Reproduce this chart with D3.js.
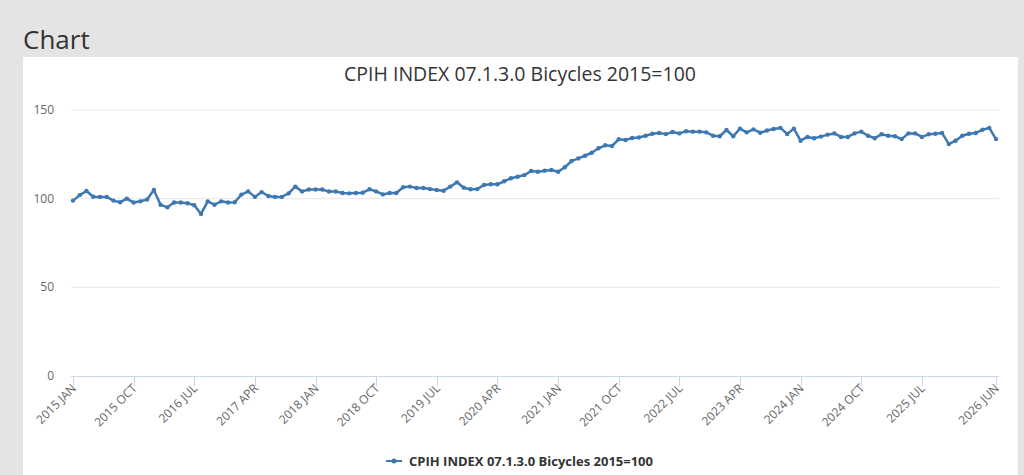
<!DOCTYPE html>
<html>
<head>
<meta charset="utf-8">
<script src="https://cdn.jsdelivr.net/npm/d3@7"></script>
<style>
  body { margin: 0; background: #e4e4e4; font-family: "Open Sans", sans-serif; }
  svg { display: block; }
</style>
</head>
<body>
<svg width="1024" height="475"></svg>
<script>
// monthly index values, 2015 JAN .. 2026 JUN
var startYear = 2015;
var monthNames = ["JAN", "FEB", "MAR", "APR", "MAY", "JUN", "JUL", "AUG", "SEP", "OCT", "NOV", "DEC"];
var values = [
  98.9, 102, 104.3, 101.1, 101, 101, 98.9, 98, 100, 97.8, 98.5, 99.5,
  104.9, 96.6, 95.1, 97.8, 97.8, 97.4, 96.3, 91.4, 98.5, 96.6, 98.5, 97.8,
  98, 102.3, 104.1, 101, 103.7, 101.5, 101, 101, 103, 106.8, 104.1, 105.2,
  105.2, 105.2, 104, 104, 103.2, 103, 103.2, 103.4, 105.3, 104.1, 102.4, 103.2,
  103.2, 106.4, 106.8, 106, 106, 105.4, 104.9, 104.5, 106.8, 109.2, 106.2, 105.3,
  105.4, 107.7, 108.1, 108.1, 109.8, 111.5, 112.4, 113.3, 115.6, 115.2, 115.8, 116.2,
  115.2, 117.7, 121.2, 122.7, 124.2, 125.9, 128.4, 130.1, 129.7, 133.5, 133.1, 134.2,
  134.5, 135.5, 136.6, 137, 136.4, 137.6, 136.8, 138, 137.8, 137.8, 137.4, 135.5,
  135.2, 138.7, 135.2, 139.5, 137.4, 139.1, 137.2, 138.4, 139.3, 139.9, 136.5, 139.5,
  132.7, 134.8, 134.1, 135, 136.1, 136.8, 134.8, 134.8, 136.8, 137.8, 135.5, 134.1,
  136.3, 135.5, 135.2, 133.6, 136.8, 136.8, 134.8, 136.3, 136.6, 137, 130.8, 132.7,
  135.5, 136.6, 137, 138.9, 139.9, 133.6
];
var yTicks = [0, 50, 100, 150];
var seriesName = "CPIH INDEX 07.1.3.0 Bicycles 2015=100";

var labels = values.map(function (v, i) {
  return (startYear + Math.floor(i / 12)) + " " + monthNames[i % 12];
});
// every 9th month labelled up to 2025 JUL, then the last month
var tickIdx = d3.range(0, values.length - 9, 9);
tickIdx.push(values.length - 1);

var svg = d3.select("svg");
var lineColor = "#3e78b2";

// page heading + white panel
svg.append("text")
  .attr("x", 23).attr("y", 49)
  .style("font-size", "26px").style("fill", "#333")
  .text("Chart");
svg.append("rect")
  .attr("x", 23).attr("y", 57).attr("width", 995).attr("height", 418)
  .attr("fill", "#fff");

var x = d3.scaleLinear().domain([0, values.length - 1]).range([73, 996]);
var y = d3.scaleLinear().domain([0, 150]).range([376, 110]);

// title
svg.append("text")
  .attr("x", 520).attr("y", 81)
  .attr("text-anchor", "middle")
  .style("font-size", "19.5px").style("fill", "#333")
  .text(seriesName);

// grid + y labels
var grid = svg.append("g");
grid.selectAll("line")
  .data(yTicks.filter(function (d) { return d > 0; }))
  .enter().append("line")
  .attr("x1", 71).attr("x2", 999)
  .attr("y1", function (d) { return y(d); })
  .attr("y2", function (d) { return y(d); })
  .attr("stroke", "#e6e6e6");
grid.selectAll("text")
  .data(yTicks)
  .enter().append("text")
  .attr("x", 54)
  .attr("y", function (d) { return y(d) + 4; })
  .attr("text-anchor", "end")
  .style("font-size", "12px").style("fill", "#666")
  .text(function (d) { return d; });

// x axis
var xAxis = svg.append("g");
xAxis.append("line")
  .attr("x1", 71).attr("x2", 999)
  .attr("y1", 376.5).attr("y2", 376.5)
  .attr("stroke", "#ccd6eb");
xAxis.selectAll("line.tick")
  .data(tickIdx)
  .enter().append("line")
  .attr("class", "tick")
  .attr("x1", function (d) { return Math.round(x(d)) + 0.5; })
  .attr("x2", function (d) { return Math.round(x(d)) + 0.5; })
  .attr("y1", 376).attr("y2", 386)
  .attr("stroke", "#ccd6eb");
xAxis.selectAll("text")
  .data(tickIdx)
  .enter().append("text")
  .attr("transform", function (d) {
    return "translate(" + (x(d) + 4) + ",389) rotate(-45)";
  })
  .attr("text-anchor", "end")
  .style("font-size", "12px").style("fill", "#666")
  .text(function (d) { return labels[d]; });

// series
var line = d3.line()
  .x(function (d, i) { return x(i); })
  .y(function (d) { return y(d); });
svg.append("path")
  .datum(values)
  .attr("d", line)
  .attr("fill", "none")
  .attr("stroke", lineColor)
  .attr("stroke-width", 2.5)
  .attr("stroke-linejoin", "round");
svg.append("g").selectAll("circle")
  .data(values)
  .enter().append("circle")
  .attr("cx", function (d, i) { return x(i); })
  .attr("cy", function (d) { return y(d); })
  .attr("r", 2.2)
  .attr("fill", lineColor);

// legend
var legend = svg.append("g").attr("transform", "translate(386,461)");
legend.append("line")
  .attr("x1", 0).attr("x2", 16)
  .attr("stroke", lineColor).attr("stroke-width", 2);
legend.append("circle")
  .attr("cx", 8).attr("r", 2.5).attr("fill", lineColor);
legend.append("text")
  .attr("x", 23).attr("y", 4.5)
  .style("font-size", "13px").style("font-weight", "bold").style("fill", "#333")
  .text(seriesName);
</script>
</body>
</html>
